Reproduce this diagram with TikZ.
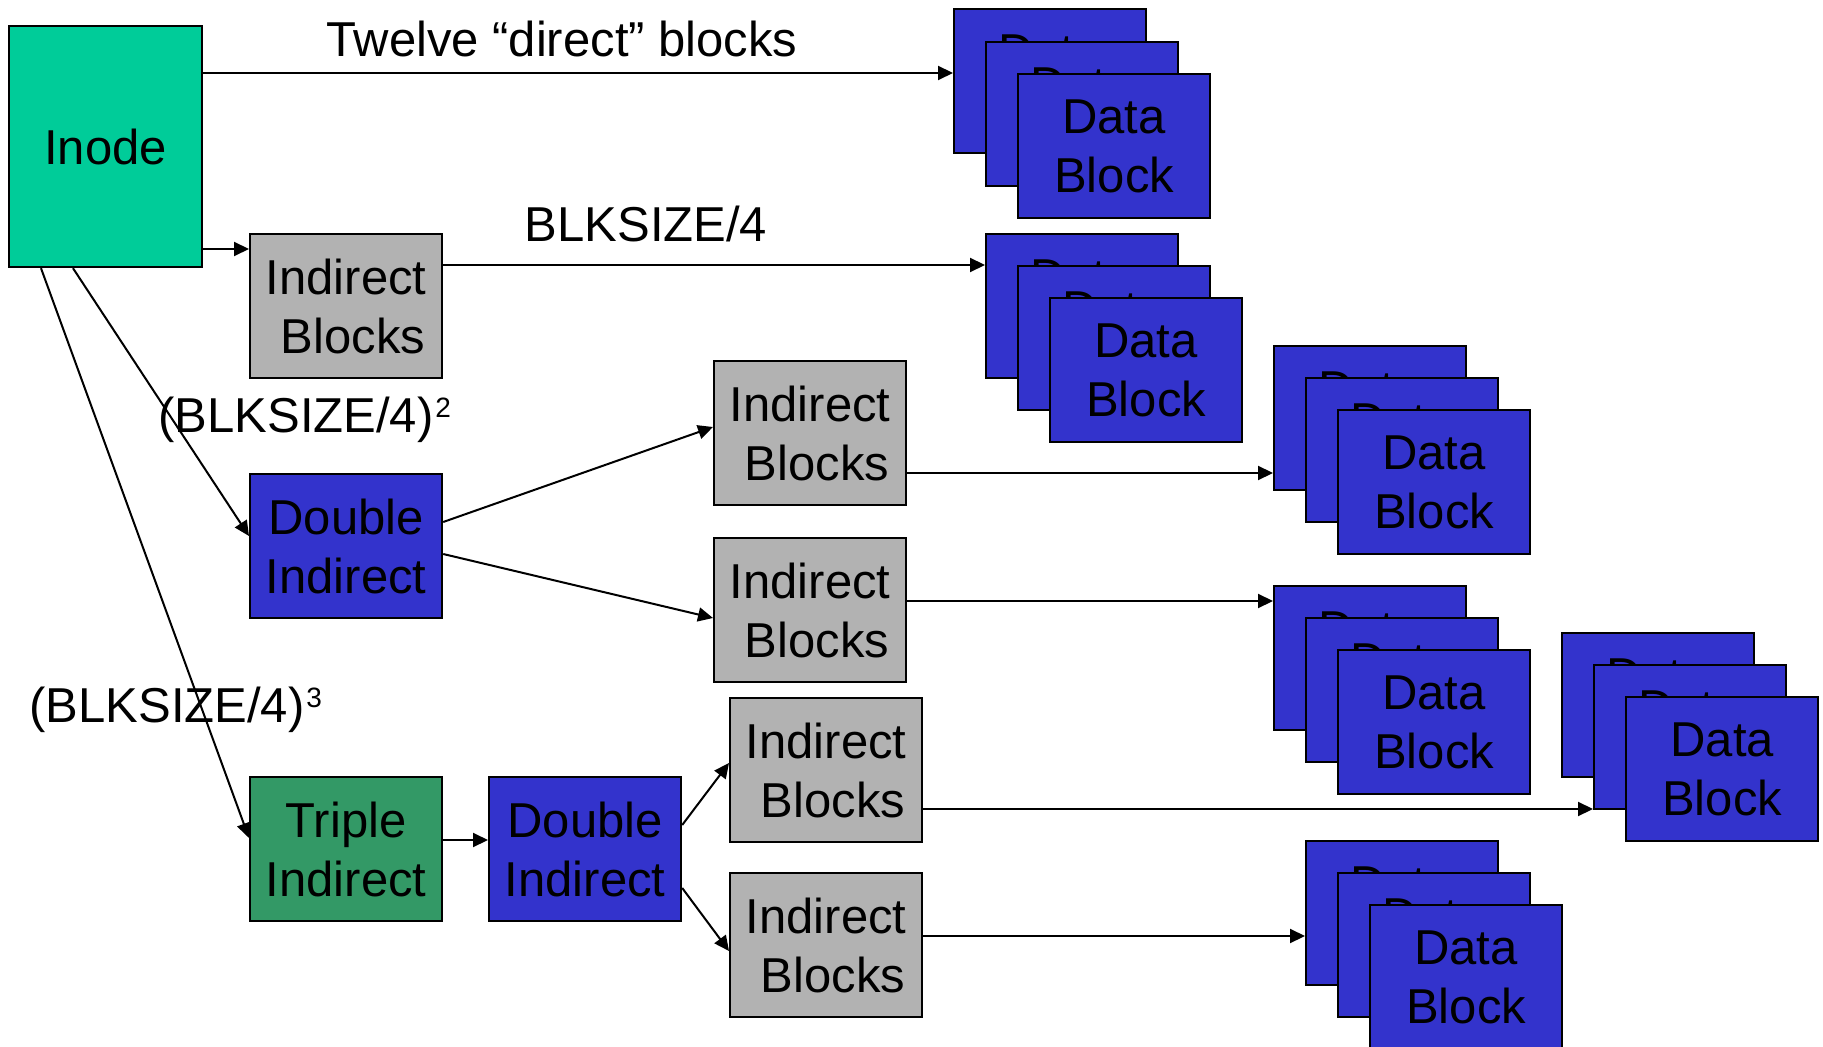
\documentclass[tikz,border=0pt]{standalone}
\usepackage{fontspec}
\setmainfont{Liberation Sans}
\usetikzlibrary{arrows.meta,calc}
\definecolor{cteal}{HTML}{00CC99}
\definecolor{cgray}{HTML}{B2B2B2}
\definecolor{cblue}{HTML}{3333CC}
\definecolor{cgreen}{HTML}{339966}
\newcommand\mysup[1]{\hspace{1pt}\raisebox{7.5pt}{\fontsize{14pt}{14pt}\selectfont #1}}
\begin{document}
\begin{tikzpicture}[x=0.5pt,y=-0.5pt,
  every node/.style={font=\fontsize{24.5pt}{29.5pt}\selectfont},
  blk/.style={draw=black,line width=1.1pt,minimum width=96pt,minimum height=72pt,
              inner sep=0pt,anchor=north west,align=center},
  ibox/.style={blk,fill=cgray},
  dbox/.style={blk,fill=cblue},
  tbox/.style={blk,fill=cgreen},
  lbl/.style={inner sep=0pt},
  arr/.style={line width=1pt,-{Triangle[length=7.5pt,width=7pt]}}]
\useasboundingbox (0,0) rectangle (1823,1047);

% main boxes
\node[blk,fill=cteal,minimum width=96.5pt,minimum height=120.5pt] (inode) at (8,25) {Inode};
\node[ibox] (ib1) at (249,233) {Indirect\\\hspace*{.278em}Blocks};
\node[dbox] (di1) at (249,473) {Double\\Indirect};
\node[ibox] (ib2) at (713,360) {Indirect\\\hspace*{.278em}Blocks};
\node[ibox] (ib3) at (713,537) {Indirect\\\hspace*{.278em}Blocks};
\node[tbox] (ti) at (249,776) {Triple\\Indirect};
\node[dbox] (di2) at (488,776) {Double\\Indirect};
\node[ibox] (ib4) at (729,697) {Indirect\\\hspace*{.278em}Blocks};
\node[ibox] (ib5) at (729,872) {Indirect\\\hspace*{.278em}Blocks};

% data block stacks
\node[dbox] (d1a) at (953,8) {Data\\Block};
\node[dbox] (d1b) at (985,41) {Data\\Block};
\node[dbox] (d1c) at (1017,73) {Data\\Block};

\node[dbox] (d2a) at (985,233) {Data\\Block};
\node[dbox] (d2b) at (1017,265) {Data\\Block};
\node[dbox] (d2c) at (1049,297) {Data\\Block};

\node[dbox] (d3a) at (1273,345) {Data\\Block};
\node[dbox] (d3b) at (1305,377) {Data\\Block};
\node[dbox] (d3c) at (1337,409) {Data\\Block};

\node[dbox] (d4a) at (1273,585) {Data\\Block};
\node[dbox] (d4b) at (1305,617) {Data\\Block};
\node[dbox] (d4c) at (1337,649) {Data\\Block};

\node[dbox] (d5a) at (1561,632) {Data\\Block};
\node[dbox] (d5b) at (1593,664) {Data\\Block};
\node[dbox] (d5c) at (1625,696) {Data\\Block};

\node[dbox] (d6a) at (1305,840) {Data\\Block};
\node[dbox] (d6b) at (1337,872) {Data\\Block};
\node[dbox] (d6c) at (1369,904) {Data\\Block};

% labels
\node[lbl,anchor=base] (lt) at (562,57) {Twelve “direct” blocks};
\node[lbl,anchor=base] (lb) at (646,242) {BLKSIZE/4};
\node[lbl,anchor=base west] (lb2) at (158,433) {(BLKSIZE/4)\mysup{2}};
\node[lbl,anchor=base west] (lb3) at (29,722) {(BLKSIZE/4)\mysup{3}};

% connectors
\draw[arr] ($(inode.north east)+(0,48)$) -- ($(d1a.north west)+(0,65)$);
\draw[arr] ($(inode.north east)+(0,224)$) -- ($(ib1.north west)+(0,16)$);
\draw[arr] ($(ib1.north east)+(0,32)$) -- ($(d2a.north west)+(0,32)$);
\draw[arr] ($(inode.south west)+(65,0)$) -- ($(di1.north west)+(0,63)$);
\draw[arr] ($(inode.south west)+(33,0)$) -- ($(ti.north west)+(0,62)$);
\draw[arr] ($(di1.north east)+(0,49)$) -- ($(ib2.north west)+(0,67)$);
\draw[arr] ($(di1.north east)+(0,81)$) -- ($(ib3.north west)+(0,81)$);
\draw[arr] ($(ib2.north east)+(0,113)$) -- ($(d3a.north west)+(0,128)$);
\draw[arr] ($(ib3.north east)+(0,64)$) -- ($(d4a.north west)+(0,16)$);
\draw[arr] ($(ti.north east)+(0,64)$) -- ($(di2.north west)+(0,64)$);
\draw[arr] ($(di2.north east)+(0,49)$) -- ($(ib4.north west)+(0,66)$);
\draw[arr] ($(di2.north east)+(0,112)$) -- ($(ib5.north west)+(0,79)$);
\draw[arr] ($(ib4.north east)+(0,112)$) -- ($(d5b.north west)+(0,145)$);
\draw[arr] ($(ib5.north east)+(0,64)$) -- ($(d6a.north west)+(0,96)$);
\end{tikzpicture}
\end{document}
